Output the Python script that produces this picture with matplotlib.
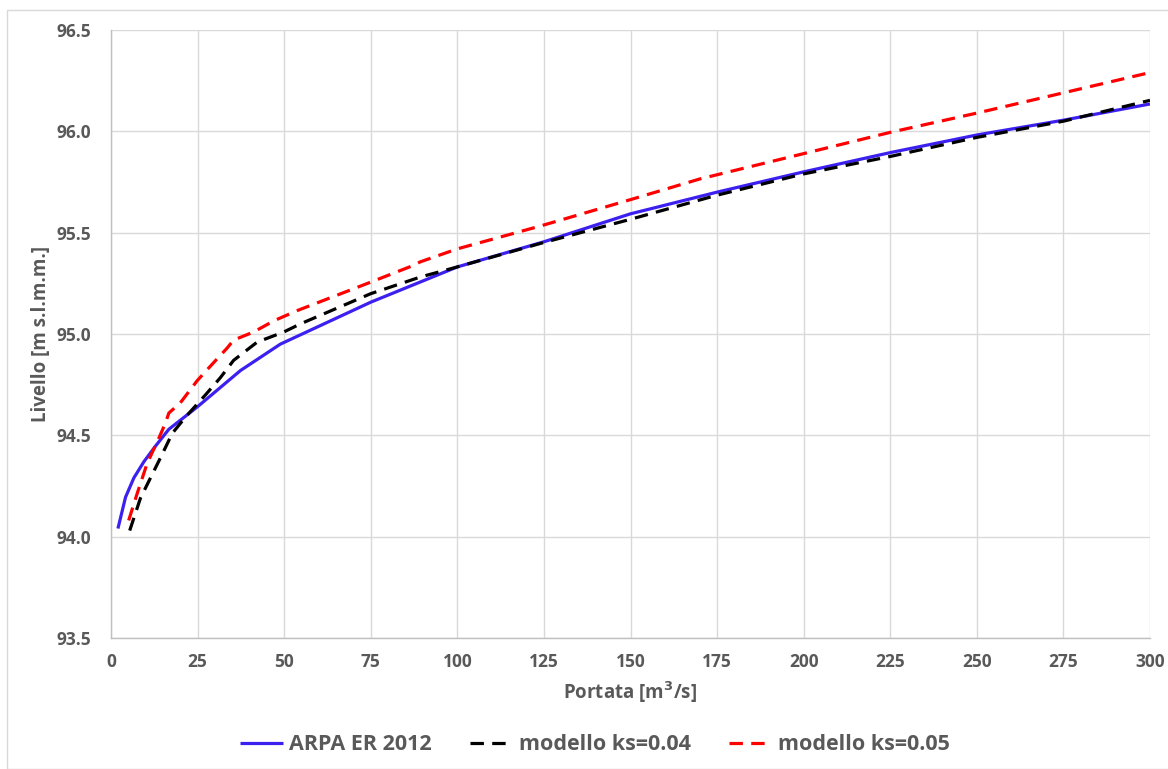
import matplotlib
matplotlib.use("Agg")
import matplotlib.pyplot as plt
from matplotlib.patches import Rectangle

# Data
arpa_q = [2.0, 4.2, 6.6, 9.5, 12.8, 16.7, 24.9, 37.4, 48.9, 75.0, 100.0, 125.0, 150.0, 175.0, 200.0, 225.0, 250.0, 275.0, 300.0]
arpa_l = [94.04, 94.195, 94.29, 94.37, 94.446, 94.53, 94.64, 94.82, 94.95, 95.157, 95.331, 95.455, 95.593, 95.70, 95.800, 95.895, 95.982, 96.055, 96.135]

ks04_q = [5.4, 8.5, 11.4, 14.3, 17.7, 21.5, 27.3, 31.6, 35.4, 42.2, 49.9, 54.7, 75.0, 89.3, 100.0, 124.0, 150.0, 175.0, 200.0, 225.0, 250.0, 275.0, 300.0]
ks04_l = [94.03, 94.19, 94.29, 94.39, 94.51, 94.59, 94.70, 94.785, 94.87, 94.96, 95.01, 95.05, 95.199, 95.281, 95.331, 95.447, 95.566, 95.685, 95.79, 95.876, 95.97, 96.05, 96.153]

ks05_q = [5.1, 7.5, 10.4, 13.8, 15.7, 16.7, 20.0, 24.9, 29.7, 33.5, 35.4, 41.2, 47.0, 53.7, 75.0, 87.4, 89.3, 100.0, 124.0, 150.0, 170.0, 200.0, 225.0, 250.0, 275.0, 300.0]
ks05_l = [94.08, 94.21, 94.36, 94.485, 94.56, 94.61, 94.66, 94.77, 94.86, 94.93, 94.97, 95.01, 95.065, 95.115, 95.256, 95.339, 95.356, 95.42, 95.533, 95.663, 95.765, 95.89, 95.995, 96.09, 96.19, 96.29]

x_ticks = [0, 25, 50, 75, 100, 125, 150, 175, 200, 225, 250, 275, 300]
y_ticks = [93.5, 94.0, 94.5, 95.0, 95.5, 96.0, 96.5]

labels = ["ARPA ER 2012", "modello ks=0.04", "modello ks=0.05"]

plt.rcParams['font.family'] = ['Open Sans', 'DejaVu Sans']
txt = '#595959'
grid_c = '#d9d9d9'

fig = plt.figure(figsize=(11.68, 7.69), dpi=100)
W, H = 1168, 769
ax = fig.add_axes([111 / W, 1 - 638 / H, (1150 - 111) / W, (638 - 30) / H])

# outer chart border
fig.patches.append(Rectangle((7 / W, 0), 1.2, 1 - 10 / H, transform=fig.transFigure,
                             fill=False, edgecolor='#d9d9d9', linewidth=1.0))

lw = 2.3
ax.plot(arpa_q, arpa_l, color='#3c20f0', lw=lw, label=labels[0], solid_capstyle='butt', zorder=3)
ax.plot(ks04_q, ks04_l, color='black', lw=lw, dashes=(4.2, 2.6), label=labels[1], zorder=4)
ax.plot(ks05_q, ks05_l, color='#ff0000', lw=lw, dashes=(4.2, 2.6), label=labels[2], zorder=5)

ax.set_xlim(0, 300)
ax.set_ylim(93.5, 96.5)
ax.set_xticks(x_ticks)
ax.set_yticks(y_ticks)
ax.set_yticklabels([f"{v:.1f}" for v in y_ticks])
ax.grid(True, color=grid_c, linewidth=1.0)
ax.set_axisbelow(True)
for s in ['top', 'right']:
    ax.spines[s].set_visible(False)
for s in ['left', 'bottom']:
    ax.spines[s].set_color('#bfbfbf')
    ax.spines[s].set_linewidth(1.0)
ax.tick_params(axis='x', length=0, pad=11, labelsize=12.5, labelcolor=txt)
ax.tick_params(axis='y', length=0, pad=14, labelsize=12.5, labelcolor=txt)
for t in ax.get_xticklabels() + ax.get_yticklabels():
    t.set_fontweight('bold')

ax.set_xlabel("Portata [m$^{\\mathbf{3}}$/s]", fontsize=13.5, fontweight='bold', color=txt, labelpad=6)
ax.set_ylabel("Livello [m s.l.m.m.]", fontsize=13.5, fontweight='bold', color=txt, labelpad=4)

leg = fig.legend(loc='center', bbox_to_anchor=(595 / W, 1 - 745 / H), ncol=3, frameon=False,
                 fontsize=15.5, handlelength=2.0, columnspacing=1.8, handletextpad=0.25)
for t in leg.get_texts():
    t.set_color(txt)
    t.set_fontweight('bold')

fig.savefig("out.png", dpi=100)
